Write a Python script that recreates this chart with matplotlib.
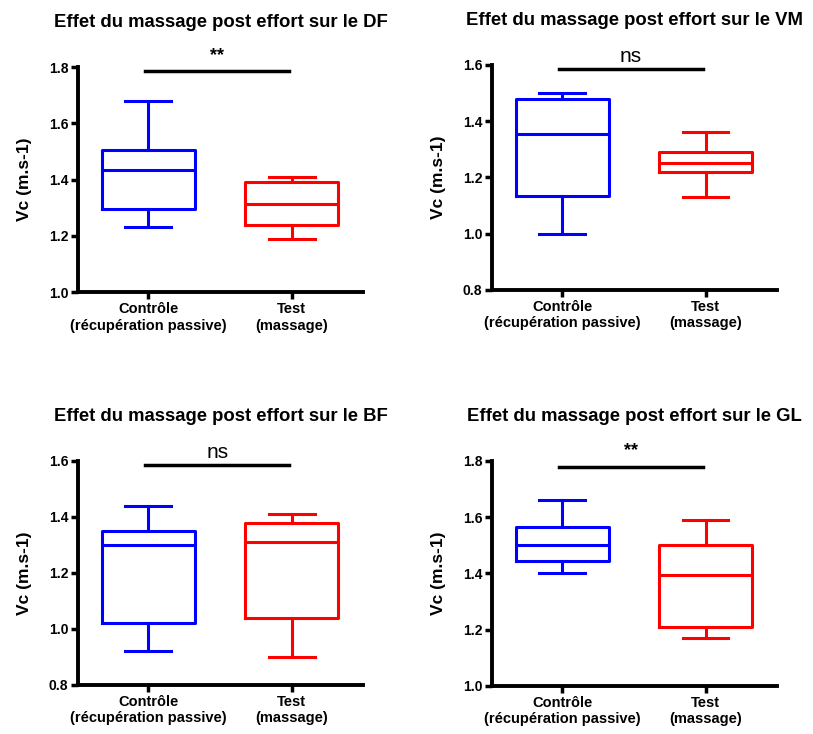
import matplotlib.pyplot as plt

plt.rcParams['font.family'] = ['Liberation Sans', 'DejaVu Sans']

# box plot values: whisker low, Q1, median, Q3, whisker high
muscles = ["DF", "VM", "BF", "GL"]
controle = {
    "DF": [1.23, 1.295, 1.435, 1.505, 1.68],
    "VM": [1.00, 1.135, 1.355, 1.48, 1.50],
    "BF": [0.92, 1.02, 1.30, 1.35, 1.44],
    "GL": [1.40, 1.445, 1.50, 1.565, 1.66],
}
test = {
    "DF": [1.19, 1.24, 1.315, 1.39, 1.41],
    "VM": [1.13, 1.22, 1.25, 1.29, 1.36],
    "BF": [0.90, 1.04, 1.31, 1.38, 1.41],
    "GL": [1.17, 1.21, 1.395, 1.50, 1.59],
}
signif = {"DF": "**", "VM": "ns", "BF": "ns", "GL": "**"}
sig_level = {"DF": 1.785, "VM": 1.587, "BF": 1.585, "GL": 1.78}
y_ranges = {"DF": (1.0, 1.8), "VM": (0.8, 1.6), "BF": (0.8, 1.6), "GL": (1.0, 1.8)}
tick_labels = ["Contrôle\n(récupération passive)", "Test\n(massage)"]

fig = plt.figure(figsize=(8.13, 7.34), dpi=100)
positions = {
    "DF": [0.096, 0.602, 0.351, 0.3065],
    "VM": [0.605, 0.605, 0.351, 0.3065],
    "BF": [0.096, 0.067, 0.351, 0.305],
    "GL": [0.605, 0.0655, 0.351, 0.3065],
}

for m in muscles:
    ax = fig.add_axes(positions[m])
    stats = []
    for vals in (controle[m], test[m]):
        lo, q1, med, q3, hi = vals
        stats.append(dict(whislo=lo, q1=q1, med=med, q3=q3, whishi=hi, fliers=[]))
    for i, (st, col) in enumerate(zip(stats, ["#0000ff", "#ff0000"])):
        ax.bxp([st], positions=[i], widths=0.65, capwidths=0.32, showfliers=False,
               boxprops=dict(color=col, linewidth=2.2),
               whiskerprops=dict(color=col, linewidth=2.2),
               capprops=dict(color=col, linewidth=2.2),
               medianprops=dict(color=col, linewidth=2.2))
    ax.set_xlim(-0.49, 1.5)
    ax.set_ylim(*y_ranges[m])
    lo, hi = y_ranges[m]
    ax.set_yticks([lo + 0.2 * k for k in range(5)])
    ax.set_yticklabels([f"{lo + 0.2 * k:.1f}" for k in range(5)])
    ax.set_xticks([0, 1])
    ax.set_xticklabels(tick_labels, fontsize=10.5, fontweight='bold', linespacing=1.25)
    for lab in ax.get_yticklabels():
        lab.set_fontweight('bold')
        lab.set_fontsize(10)
    ax.spines['top'].set_visible(False)
    ax.spines['right'].set_visible(False)
    ax.spines['left'].set_linewidth(2.8)
    ax.spines['bottom'].set_linewidth(2.8)
    ax.tick_params(axis='both', width=2.5, length=5, pad=2, color='black')
    ax.set_ylabel("Vc (m.s-1)", fontsize=12.5, fontweight='bold', labelpad=12)
    ax.set_title(f"Effet du massage post effort sur le {m}", fontsize=13.3,
                 fontweight='bold', pad=29)
    # significance bar
    y = sig_level[m]
    ax.plot([-0.02, 0.98], [y, y], color='black', linewidth=2.5, clip_on=False)
    if signif[m] == "**":
        ax.text(0.48, y + 0.025, "**", ha='center', va='bottom', fontsize=13,
                fontweight='bold')
    else:
        ax.text(0.48, y + 0.01, "ns", ha='center', va='bottom', fontsize=15)

plt.savefig("out.png", dpi=100)
